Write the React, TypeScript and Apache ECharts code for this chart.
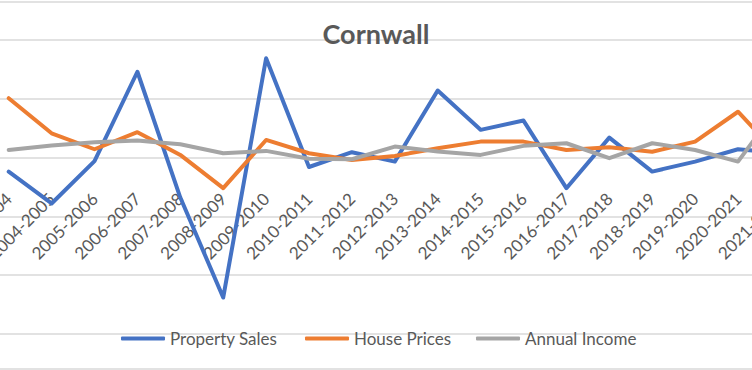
import React, { useEffect, useRef } from "react";
import * as echarts from "echarts";

const categories = [
  "2003-2004", "2004-2005", "2005-2006", "2006-2007", "2007-2008", "2008-2009",
  "2009-2010", "2010-2011", "2011-2012", "2012-2013", "2013-2014", "2014-2015",
  "2015-2016", "2016-2017", "2017-2018", "2018-2019", "2019-2020", "2020-2021",
  "2021-2022",
];

const propertySales = [
  -1.2, -3.9, -0.3, 7.3, -3.4, -11.9, 8.45, -0.8, 0.46, -0.34, 5.7, 2.36,
  3.15, -2.6, 1.7, -1.19, -0.34, 0.71, 0.4,
];

const housePrices = [
  5.05, 2.07, 0.71, 2.16, 0.23, -2.6, 1.5, 0.37, -0.2, 0.14, 0.8, 1.36,
  1.36, 0.65, 0.88, 0.5, 1.36, 3.9, 0.0,
];

const annualIncome = [
  0.65, 1.02, 1.3, 1.45, 1.14, 0.37, 0.57, -0.1, -0.14, 0.94, 0.51, 0.23,
  1.0, 1.22, -0.05, 1.22, 0.65, -0.34, 4.6,
];

const seriesNames = ["Property Sales", "House Prices", "Annual Income"];
const seriesColors = ["#4472C4", "#ED7D31", "#A5A5A5"];

const FONT = "Lato, 'Open Sans', sans-serif";
const OFFSET = 100;
const legendLefts = [116, 300, 471];

export default function App() {
  const ref = useRef<HTMLDivElement>(null);
  useEffect(() => {
    if (!ref.current) return;
    const chart = echarts.init(ref.current, undefined, { renderer: "svg" });
    const seriesData = [propertySales, housePrices, annualIncome];
    chart.setOption({
      animation: false,
      backgroundColor: "#ffffff",
      title: {
        text: "Cornwall",
        left: "center",
        top: 15,
        textStyle: { fontFamily: FONT, fontSize: 27, fontWeight: "bold", color: "#595959" },
      },
      legend: seriesNames.map((n, i) => ({
        left: legendLefts[i] + OFFSET,
        top: 325,
        icon: "roundRect",
        itemWidth: 44,
        itemHeight: 4,
        textStyle: { fontFamily: FONT, fontSize: 17, color: "#595959" },
        data: [n],
      })),
      grid: {
        left: OFFSET - 12.75,
        width: 42.9 * categories.length,
        top: 40,
        height: 294,
        containLabel: false,
        outerBoundsMode: "none",
      },
      xAxis: {
        type: "category",
        data: categories,
        boundaryGap: true,
        offset: -176.4,
        axisLine: { show: false, onZero: false },
        axisTick: { show: false },
        axisLabel: {
          rotate: 45,
          interval: 0,
          margin: 38,
          fontFamily: FONT,
          fontSize: 17,
          color: "#595959",
        },
      },
      yAxis: {
        type: "value",
        min: -15,
        max: 10,
        interval: 5,
        axisLabel: { show: false },
        axisLine: { show: false },
        axisTick: { show: false },
        splitLine: { lineStyle: { color: "#d9d9d9", width: 1.5 } },
      },
      graphic: [
        { type: "line", shape: { x1: 0, y1: 2, x2: 952, y2: 2 }, style: { stroke: "#d9d9d9", lineWidth: 1.5 } },
        { type: "line", shape: { x1: 0, y1: 369, x2: 952, y2: 369 }, style: { stroke: "#d9d9d9", lineWidth: 1.5 } },
      ],
      series: seriesNames.map((n, i) => ({
        name: n,
        type: "line",
        data: seriesData[i],
        symbol: "none",
        smooth: false,
        color: seriesColors[i],
        lineStyle: { width: 4, color: seriesColors[i], cap: "round", join: "round" },
        z: 3,
      })),
    });
    return () => chart.dispose();
  }, []);
  return (
    <div
      ref={ref}
      style={{ position: "fixed", left: -OFFSET, top: 0, width: 752 + 2 * OFFSET, height: 370 }}
    />
  );
}
